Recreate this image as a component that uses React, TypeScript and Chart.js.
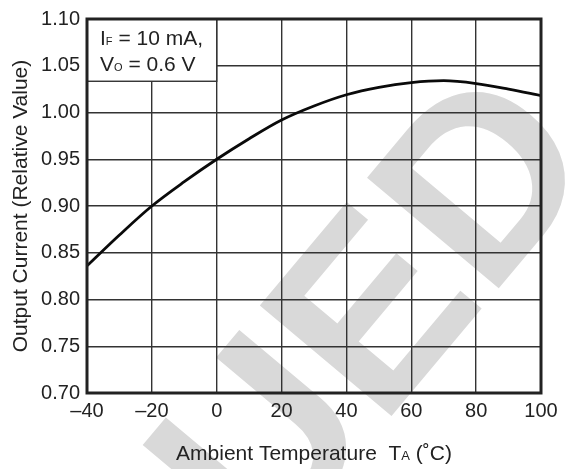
import React, { useEffect, useRef } from "react";
import { Chart, registerables } from "chart.js";

Chart.register(...registerables);

// ---- data ----
const temperatures = [-40, -30, -20, -10, 0, 10, 20, 30, 40, 50, 60, 70, 80, 90, 100];
const outputCurrent = [0.836, 0.869, 0.9, 0.926, 0.95, 0.972, 0.992, 1.007, 1.019, 1.027, 1.032, 1.034, 1.031, 1.025, 1.018];
const xTickValues = [-40, -20, 0, 20, 40, 60, 80, 100];
const yTickValues = [0.7, 0.75, 0.8, 0.85, 0.9, 0.95, 1.0, 1.05, 1.1];
const xAxisTitleMain = "Ambient Temperature  T";
const xAxisTitleSub = "A";
const xAxisTitleTail = " (\u02DAC)";
const yAxisTitle = "Output Current (Relative Value)";
const noteLines = [
  ["I", "F", " = 10 mA,"],
  ["V", "O", " = 0.6 V"],
];
const noteBoxX = [-40, 0];
const noteBoxY = [1.1, 1.0334];
const watermarkText = "DISCONTINUED";

const FONT = '"Liberation Sans", Arial, Helvetica, sans-serif';

function drawSubText(ctx: CanvasRenderingContext2D, parts: string[], x: number, y: number, size: number, subSize: number, align: "left" | "center") {
  ctx.font = `${size}px ${FONT}`;
  const w0 = ctx.measureText(parts[0]).width;
  const w2 = ctx.measureText(parts[2]).width;
  ctx.font = `${subSize}px ${FONT}`;
  const w1 = ctx.measureText(parts[1]).width;
  const total = w0 + w1 + w2;
  let sx = align === "center" ? x - total / 2 : x;
  ctx.textAlign = "left";
  ctx.textBaseline = "alphabetic";
  ctx.font = `${size}px ${FONT}`;
  ctx.fillText(parts[0], sx, y);
  sx += w0;
  ctx.font = `${subSize}px ${FONT}`;
  ctx.fillText(parts[1], sx, y);
  sx += w1;
  ctx.font = `${size}px ${FONT}`;
  ctx.fillText(parts[2], sx, y);
}

const decorPlugin = {
  id: "decor",
  beforeDraw(chart: any) {
    const ctx = chart.ctx as CanvasRenderingContext2D;
    ctx.save();
    ctx.fillStyle = "#d9d9d9";
    ctx.font = `bold 250px ${FONT}`;
    ctx.translate(488, 301);
    ctx.rotate((-50 * Math.PI) / 180);
    ctx.textAlign = "left";
    ctx.textBaseline = "alphabetic";
    const pre = ctx.measureText(watermarkText.slice(0, -1)).width;
    ctx.fillText(watermarkText, -pre, 0);
    ctx.restore();
  },
  beforeDatasetsDraw(chart: any) {
    const ctx = chart.ctx as CanvasRenderingContext2D;
    const xs = chart.scales.x;
    const ys = chart.scales.y;
    const l = xs.getPixelForValue(noteBoxX[0]);
    const r = xs.getPixelForValue(noteBoxX[1]);
    const t = ys.getPixelForValue(noteBoxY[0]);
    const b = ys.getPixelForValue(noteBoxY[1]);
    ctx.save();
    ctx.fillStyle = "#ffffff";
    ctx.fillRect(l, t, r - l, b - t);
    ctx.strokeStyle = "#333333";
    ctx.lineWidth = 1.4;
    ctx.strokeRect(l, t, r - l, b - t);
    ctx.fillStyle = "#222222";
    drawSubText(ctx, noteLines[0], l + 13, t + 26, 21, 11, "left");
    drawSubText(ctx, noteLines[1], l + 13, t + 52, 21, 11, "left");
    ctx.restore();
  },
  afterDatasetsDraw(chart: any) {
    const ctx = chart.ctx as CanvasRenderingContext2D;
    const a = chart.chartArea;
    ctx.save();
    ctx.strokeStyle = "#222222";
    ctx.lineWidth = 3;
    ctx.strokeRect(a.left, a.top, a.right - a.left, a.bottom - a.top);
    ctx.fillStyle = "#222222";
    // x axis title
    drawSubText(ctx, [xAxisTitleMain, xAxisTitleSub, xAxisTitleTail], (a.left + a.right) / 2, 460, 21, 13, "center");
    // y axis title
    ctx.translate(27, (a.top + a.bottom) / 2);
    ctx.rotate(-Math.PI / 2);
    ctx.font = `21px ${FONT}`;
    ctx.textAlign = "center";
    ctx.textBaseline = "alphabetic";
    ctx.fillText(yAxisTitle, 0, 0);
    ctx.restore();
  },
};

export default function App() {
  const ref = useRef<HTMLCanvasElement | null>(null);
  useEffect(() => {
    if (!ref.current) return;
    const chart = new Chart(ref.current, {
      type: "line",
      data: {
        datasets: [
          {
            data: temperatures.map((t, i) => ({ x: t, y: outputCurrent[i] })),
            borderColor: "#0a0a0a",
            borderWidth: 2.8,
            pointRadius: 0,
            cubicInterpolationMode: "monotone",
            fill: false,
          },
        ],
      },
      options: {
        animation: false,
        responsive: false,
        devicePixelRatio: 1,
        layout: { padding: { left: 0, right: 29, top: 16, bottom: 0 } },
        plugins: { legend: { display: false }, tooltip: { enabled: false }, title: { display: false } },
        scales: {
          x: {
            type: "linear",
            min: -40,
            max: 100,
            afterBuildTicks: (s: any) => {
              s.ticks = xTickValues.map((v) => ({ value: v }));
            },
            afterFit: (s: any) => {
              s.height = 76;
            },
            ticks: {
              color: "#222222",
              font: { family: FONT, size: 20 },
              padding: 6,
              maxRotation: 0,
              callback: (v: any) => (Number(v) < 0 ? "\u2013" + Math.abs(Number(v)) : String(v)),
            },
            grid: { color: "#333333", lineWidth: 1.4, drawTicks: false },
            border: { display: false },
          },
          y: {
            type: "linear",
            min: 0.7,
            max: 1.1,
            afterBuildTicks: (s: any) => {
              s.ticks = yTickValues.map((v) => ({ value: v }));
            },
            afterFit: (s: any) => {
              s.width = 87;
            },
            ticks: {
              color: "#222222",
              font: { family: FONT, size: 20 },
              padding: 7,
              callback: (v: any) => Number(v).toFixed(2),
            },
            grid: { color: "#333333", lineWidth: 1.4, drawTicks: false },
            border: { display: false },
          },
        },
      },
      plugins: [decorPlugin],
    } as any);
    return () => chart.destroy();
  }, []);
  return (
    <div style={{ position: "fixed", left: 0, top: 0, width: 570, height: 469, background: "#fff" }}>
      <canvas ref={ref} width={570} height={469} style={{ width: 570, height: 469, display: "block" }} />
    </div>
  );
}
